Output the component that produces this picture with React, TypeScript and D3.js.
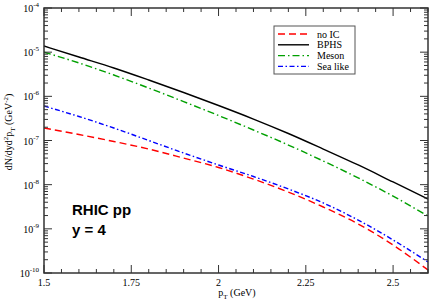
import React from 'react';
import * as d3 from 'd3';

const pT = [1.5, 1.6, 1.7, 1.8, 1.9, 2.0, 2.1, 2.2, 2.3, 2.4, 2.5, 2.6];
const noIC = [1.92e-7, 1.37e-7, 9.5e-8, 6.4e-8, 4.0e-8, 2.45e-8, 1.34e-8, 6.8e-9, 3.12e-9, 1.29e-9, 4.3e-10, 1.17e-10];
const bphs = [1.38e-5, 7.76e-6, 4.38e-6, 2.34e-6, 1.22e-6, 6.2e-7, 3.06e-7, 1.44e-7, 6.4e-8, 2.79e-8, 1.15e-8, 4.73e-9];
const meson = [1.0e-5, 5.7e-6, 3.04e-6, 1.54e-6, 7.6e-7, 3.68e-7, 1.73e-7, 7.9e-8, 3.43e-8, 1.42e-8, 5.5e-9, 1.95e-9];
const seaLike = [6.04e-7, 3.49e-7, 1.92e-7, 1.0e-7, 5.2e-8, 2.79e-8, 1.53e-8, 7.98e-9, 3.85e-9, 1.58e-9, 5.6e-10, 1.78e-10];

const xTicks = [1.5, 1.75, 2, 2.25, 2.5];
const xTickLabels = ['1.5', '1.75', '2', '2.25', '2.5'];
const yExponents = [-4, -5, -6, -7, -8, -9, -10];

const series = [
  { name: 'no IC', values: noIC, color: '#ff0000', dash: '7,4' },
  { name: 'BPHS', values: bphs, color: '#000000', dash: '' },
  { name: 'Meson', values: meson, color: '#00a000', dash: '7,3,1.5,3' },
  { name: 'Sea like', values: seaLike, color: '#0000ff', dash: '5,2.5,1.5,2.5' },
];

const W = 429;
const H = 302;
const left = 44, right = 428, top = 8, bottom = 273;
const serif = '"Liberation Serif", "DejaVu Serif", serif';
const sans = '"Liberation Sans", Arial, sans-serif';

export default function App() {
  const x = d3.scaleLinear().domain([1.5, 2.6]).range([left, right]);
  const y = d3.scaleLog().domain([1e-10, 1e-4]).range([bottom, top]);

  const line = d3.line<[number, number]>()
    .x(d => x(d[0]))
    .y(d => y(d[1]))
    .curve(d3.curveMonotoneX);

  const xMinor = d3.range(1.5, 2.6001, 0.05).filter(v => !xTicks.some(t => Math.abs(t - v) < 1e-6));
  const yMinor: number[] = [];
  for (let e = -10; e < -4; e++) {
    for (let m = 2; m <= 9; m++) yMinor.push(m * Math.pow(10, e));
  }

  const axisColor = '#333';

  return (
    <svg width={W} height={H} style={{ position: 'absolute', left: 0, top: 0, background: '#fff' }}>
      <defs>
        <clipPath id="plot">
          <rect x={left} y={top} width={right - left} height={bottom - top} />
        </clipPath>
      </defs>

      {/* curves */}
      <g clipPath="url(#plot)">
        {series.map(s => (
          <path key={s.name}
            d={line(pT.map((p, i) => [p, s.values[i]] as [number, number])) || ''}
            fill="none" stroke={s.color} strokeWidth={1.4} strokeDasharray={s.dash} />
        ))}
      </g>

      {/* frame */}
      <rect x={left} y={top} width={right - left} height={bottom - top}
        fill="none" stroke={axisColor} strokeWidth={1.5} />

      {/* x ticks */}
      {xTicks.map((t, i) => (
        <g key={'xt' + t}>
          <line x1={x(t)} x2={x(t)} y1={bottom} y2={bottom - 8} stroke={axisColor} />
          <line x1={x(t)} x2={x(t)} y1={top} y2={top + 8} stroke={axisColor} />
          <text x={x(t)} y={286} textAnchor="middle" fontFamily={serif} fontSize={10}>{xTickLabels[i]}</text>
        </g>
      ))}
      {xMinor.map(t => (
        <g key={'xm' + t}>
          <line x1={x(t)} x2={x(t)} y1={bottom} y2={bottom - 4} stroke={axisColor} />
          <line x1={x(t)} x2={x(t)} y1={top} y2={top + 4} stroke={axisColor} />
        </g>
      ))}

      {/* y ticks */}
      {yExponents.map(e => (
        <g key={'yt' + e}>
          <line x1={left} x2={left + 8} y1={y(Math.pow(10, e))} y2={y(Math.pow(10, e))} stroke={axisColor} />
          <line x1={right} x2={right - 8} y1={y(Math.pow(10, e))} y2={y(Math.pow(10, e))} stroke={axisColor} />
          <text x={39} y={y(Math.pow(10, e)) + 4} textAnchor="end" fontFamily={serif} fontSize={10}>
            10<tspan dy={-5} fontSize={7}>{e}</tspan>
          </text>
        </g>
      ))}
      {yMinor.map(v => (
        <g key={'ym' + v}>
          <line x1={left} x2={left + 4} y1={y(v)} y2={y(v)} stroke={axisColor} />
          <line x1={right} x2={right - 4} y1={y(v)} y2={y(v)} stroke={axisColor} />
        </g>
      ))}

      {/* axis titles */}
      <text x={237} y={296} textAnchor="middle" fontFamily={serif} fontSize={10}>
        p<tspan dy={3} fontSize={7}>T</tspan><tspan dy={-3}> (GeV)</tspan>
      </text>
      <text transform="translate(12,132) rotate(-90)" textAnchor="middle" fontFamily={serif} fontSize={10}>
        dN/dyd<tspan dy={-4} fontSize={7}>2</tspan><tspan dy={4}>p</tspan><tspan dy={3} fontSize={7}>T</tspan><tspan dy={-3}> (GeV</tspan><tspan dy={-4} fontSize={7}>-2</tspan><tspan dy={4}>)</tspan>
      </text>

      {/* legend */}
      <rect x={274} y={26} width={81} height={48} fill="#fff" stroke="#555" strokeWidth={1} />
      {series.map((s, i) => (
        <g key={'lg' + s.name}>
          <line x1={278} x2={309} y1={34 + i * 10.8} y2={34 + i * 10.8}
            stroke={s.color} strokeWidth={1.4} strokeDasharray={s.dash} />
          <text x={317} y={37.5 + i * 10.8} fontFamily={serif} fontSize={10}>{s.name}</text>
        </g>
      ))}

      {/* annotation */}
      <text x={72} y={215} fontFamily={sans} fontWeight="bold" fontSize={15}>RHIC pp</text>
      <text x={72} y={235} fontFamily={sans} fontWeight="bold" fontSize={15}>y = 4</text>
    </svg>
  );
}
